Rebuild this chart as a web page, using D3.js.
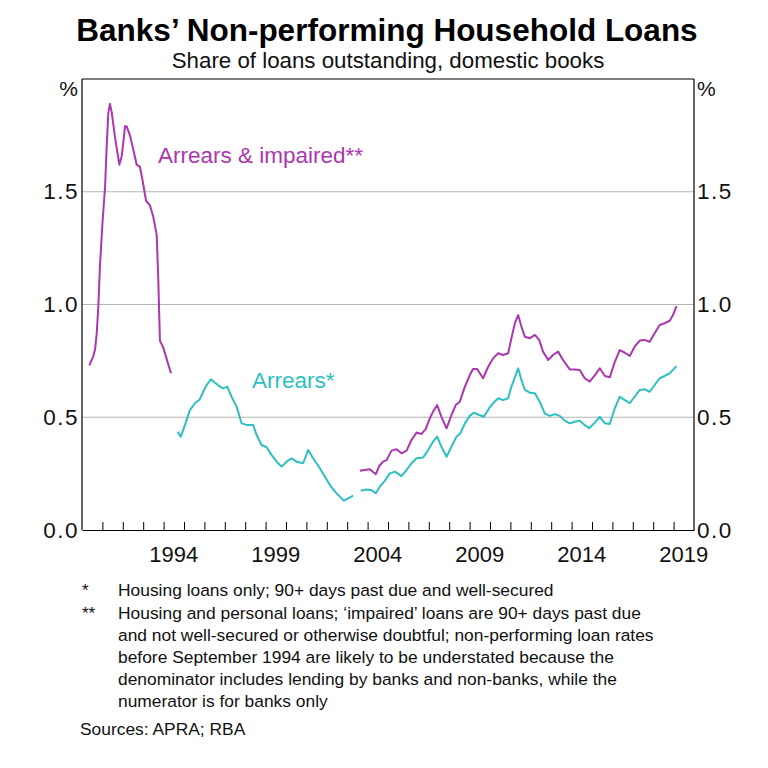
<!DOCTYPE html>
<html>
<head>
<meta charset="utf-8">
<script src="https://cdn.jsdelivr.net/npm/d3@7"></script>
<style>
  html, body { margin: 0; padding: 0; background: #fff; }
  svg { display: block; font-family: "Liberation Sans", Arial, sans-serif; }
</style>
</head>
<body>
<svg id="chart" width="768" height="768"></svg>
<script>
// ---- Data ----
const title = "Banks\u2019 Non-performing Household Loans";
const subtitle = "Share of loans outstanding, domestic books";

// Arrears & impaired** (early segment)
const impairedDates1 = [1990.36,1990.55,1990.64,1990.72,1990.80,1990.88,1991.01,1991.13,1991.21,1991.29,1991.37,1991.46,1991.62,1991.83,1991.95,1992.11,1992.19,1992.35,1992.51,1992.68,1992.84,1992.97,1993.14,1993.33,1993.49,1993.66,1993.74,1993.82,1993.98,1994.36];
const impairedValues1 = [0.73,0.77,0.80,0.87,0.99,1.17,1.37,1.52,1.70,1.85,1.89,1.85,1.74,1.62,1.66,1.79,1.79,1.75,1.69,1.62,1.61,1.55,1.46,1.44,1.39,1.31,1.11,0.84,0.81,0.695];

// Arrears & impaired** (later segment)
const impairedDates2 = [2003.62,2003.87,2004.11,2004.40,2004.57,2004.76,2004.93,2005.17,2005.42,2005.66,2005.91,2006.15,2006.40,2006.64,2006.85,2007.05,2007.21,2007.41,2007.62,2007.87,2008.11,2008.32,2008.52,2008.77,2009.01,2009.17,2009.37,2009.66,2009.91,2010.15,2010.40,2010.64,2010.89,2011.05,2011.22,2011.38,2011.54,2011.71,2011.95,2012.20,2012.41,2012.60,2012.85,2013.09,2013.34,2013.58,2013.91,2014.15,2014.40,2014.64,2014.89,2015.14,2015.38,2015.63,2015.87,2016.12,2016.36,2016.61,2016.85,2017.09,2017.34,2017.58,2017.83,2018.07,2018.32,2018.56,2018.81,2018.97,2019.14];
const impairedValues2 = [0.263,0.266,0.269,0.247,0.284,0.303,0.310,0.352,0.358,0.340,0.352,0.399,0.432,0.426,0.447,0.495,0.525,0.554,0.502,0.451,0.510,0.554,0.569,0.636,0.687,0.714,0.714,0.673,0.724,0.761,0.784,0.776,0.784,0.850,0.917,0.953,0.902,0.857,0.850,0.865,0.843,0.791,0.754,0.776,0.791,0.754,0.712,0.712,0.710,0.673,0.658,0.687,0.717,0.683,0.677,0.746,0.798,0.786,0.772,0.813,0.840,0.843,0.835,0.872,0.909,0.917,0.928,0.953,0.993];

// Arrears* (early segment)
const arrearsDates1 = [1994.69,1994.84,1995.05,1995.29,1995.54,1995.78,1995.94,1996.11,1996.32,1996.52,1996.76,1996.92,1997.12,1997.33,1997.58,1997.82,1998.07,1998.39,1998.56,1998.80,1999.05,1999.29,1999.54,1999.78,2000.03,2000.27,2000.52,2000.84,2001.09,2001.33,2001.66,2001.91,2002.15,2002.40,2002.64,2002.84,2003.05,2003.29];
const arrearsValues1 = [0.436,0.414,0.466,0.532,0.562,0.580,0.613,0.643,0.668,0.653,0.636,0.628,0.636,0.591,0.547,0.473,0.466,0.466,0.421,0.377,0.367,0.333,0.303,0.281,0.303,0.318,0.303,0.296,0.355,0.318,0.274,0.236,0.200,0.170,0.148,0.130,0.140,0.152];

// Arrears* (later segment)
const arrearsDates2 = [2003.66,2003.95,2004.19,2004.40,2004.60,2004.85,2005.09,2005.34,2005.66,2005.91,2006.15,2006.40,2006.72,2006.97,2007.21,2007.41,2007.62,2007.87,2008.11,2008.36,2008.55,2008.77,2009.01,2009.21,2009.47,2009.70,2009.96,2010.15,2010.40,2010.64,2010.89,2011.05,2011.22,2011.38,2011.54,2011.71,2011.95,2012.20,2012.44,2012.68,2012.93,2013.18,2013.42,2013.66,2013.91,2014.15,2014.40,2014.64,2014.86,2015.14,2015.38,2015.63,2015.87,2016.12,2016.36,2016.61,2016.85,2017.09,2017.34,2017.58,2017.83,2018.07,2018.32,2018.56,2018.81,2018.97,2019.14];
const arrearsValues2 = [0.174,0.180,0.177,0.163,0.192,0.219,0.251,0.259,0.239,0.266,0.296,0.318,0.321,0.355,0.392,0.414,0.369,0.325,0.369,0.414,0.429,0.473,0.506,0.520,0.510,0.502,0.540,0.562,0.584,0.576,0.584,0.636,0.677,0.717,0.665,0.621,0.609,0.606,0.569,0.517,0.506,0.514,0.506,0.485,0.473,0.480,0.485,0.466,0.451,0.476,0.502,0.473,0.470,0.540,0.591,0.576,0.562,0.591,0.621,0.624,0.613,0.643,0.673,0.683,0.695,0.710,0.727];

const yTicks = [0, 0.5, 1.0, 1.5];
const gridValues = [0.5, 1.0, 1.5];
const yearLabels = [1994, 1999, 2004, 2009, 2014, 2019];
const yearTicks = d3.range(1991, 2020);

const seriesLabels = ["Arrears & impaired**", "Arrears*"];
const footnotes = [
  { mark: "*", lines: ["Housing loans only; 90+ days past due and well-secured"] },
  { mark: "**", lines: [
    "Housing and personal loans; \u2018impaired\u2019 loans are 90+ days past due",
    "and not well-secured or otherwise doubtful; non-performing loan rates",
    "before September 1994 are likely to be understated because the",
    "denominator includes lending by banks and non-banks, while the",
    "numerator is for banks only"] }
];
const sources = "Sources: APRA; RBA";

// ---- Drawing ----
const purple = "#ab37b0";
const teal = "#2ebfc2";
const ink = "#111";
const svg = d3.select("#chart");
const L = 82, R = 694, T = 79, B = 530;
const x = d3.scaleLinear().domain([1990, 2020]).range([L, R]);
const y = d3.scaleLinear().domain([0, 2]).range([B, T]);

// title
svg.append("text").attr("x", 387).attr("y", 41).attr("text-anchor", "middle")
  .attr("font-size", 31.5).attr("font-weight", "bold").attr("fill", "#000").text(title);
svg.append("text").attr("x", 388).attr("y", 68).attr("text-anchor", "middle")
  .attr("font-size", 22.3).attr("fill", ink).text(subtitle);

// grid
svg.append("g").selectAll("line").data(gridValues).join("line")
  .attr("x1", L).attr("x2", R).attr("y1", d => y(d)).attr("y2", d => y(d))
  .attr("stroke", "#b5b5b5").attr("stroke-width", 1.2);

// frame (top, left, right)
svg.append("line").attr("x1", L).attr("x2", R).attr("y1", T).attr("y2", T).attr("stroke", "#000").attr("stroke-width", 1);
svg.append("line").attr("x1", L).attr("x2", L).attr("y1", T).attr("y2", B).attr("stroke", "#000").attr("stroke-width", 1.2);
svg.append("line").attr("x1", R).attr("x2", R).attr("y1", T).attr("y2", B).attr("stroke", "#000").attr("stroke-width", 1.2);

// x axis
const xAxis = d3.axisBottom(x).tickValues(yearTicks).tickFormat("").tickSizeInner(-8).tickSizeOuter(0);
const gx = svg.append("g").attr("transform", `translate(0,${B})`).call(xAxis);
gx.select(".domain").attr("stroke", "#000").attr("stroke-width", 1.2);
gx.selectAll(".tick line").attr("stroke", "#000");
svg.append("g").selectAll("text").data(yearLabels).join("text")
  .attr("x", d => x(d + 0.5)).attr("y", 562).attr("text-anchor", "middle")
  .attr("font-size", 22).attr("fill", ink).text(d => d);

// y axes labels
const fmt = d3.format(".1f");
const yl = d3.axisLeft(y).tickValues(yTicks).tickFormat(fmt).tickSize(0).tickPadding(3);
const gyl = svg.append("g").attr("transform", `translate(${L},0)`).call(yl);
gyl.select(".domain").remove();
gyl.selectAll("text").attr("font-size", 22.5).attr("letter-spacing", 1.5).attr("fill", ink)
  .attr("font-family", "Liberation Sans, Arial, sans-serif");
const yr = d3.axisRight(y).tickValues(yTicks).tickFormat(fmt).tickSize(0).tickPadding(3);
const gyr = svg.append("g").attr("transform", `translate(${R},0)`).call(yr);
gyr.select(".domain").remove();
gyr.selectAll("text").attr("font-size", 22.5).attr("letter-spacing", 1.5).attr("fill", ink)
  .attr("font-family", "Liberation Sans, Arial, sans-serif");
svg.append("text").attr("x", L - 4).attr("y", 96).attr("text-anchor", "end").attr("font-size", 21).attr("fill", ink).text("%");
svg.append("text").attr("x", R + 3).attr("y", 96).attr("font-size", 21).attr("fill", ink).text("%");

// lines
const line = d3.line().x(d => x(d[0])).y(d => y(d[1]));
const segs = [
  [impairedDates1, impairedValues1, purple],
  [impairedDates2, impairedValues2, purple],
  [arrearsDates1, arrearsValues1, teal],
  [arrearsDates2, arrearsValues2, teal]
];
segs.forEach(([ds, vs, c]) => {
  svg.append("path").datum(ds.map((d, i) => [d, vs[i]]))
    .attr("d", line).attr("fill", "none").attr("stroke", c)
    .attr("stroke-width", 2).attr("stroke-linejoin", "round");
});

// series labels
svg.append("text").attr("x", 158).attr("y", 163).attr("font-size", 22.5).attr("fill", purple).text(seriesLabels[0]);
svg.append("text").attr("x", 252).attr("y", 388).attr("font-size", 22.5).attr("fill", teal).text(seriesLabels[1]);

// footnotes
let fy = 596;
footnotes.forEach(f => {
  svg.append("text").attr("x", 82).attr("y", fy).attr("font-size", 17).attr("fill", ink).text(f.mark);
  f.lines.forEach(l => {
    svg.append("text").attr("x", 118).attr("y", fy).attr("font-size", 17.4).attr("fill", ink).text(l);
    fy += 22;
  });
  fy += 1;
});
svg.append("text").attr("x", 80).attr("y", 735).attr("font-size", 17.4).attr("fill", ink).text(sources);
</script>
</body>
</html>
